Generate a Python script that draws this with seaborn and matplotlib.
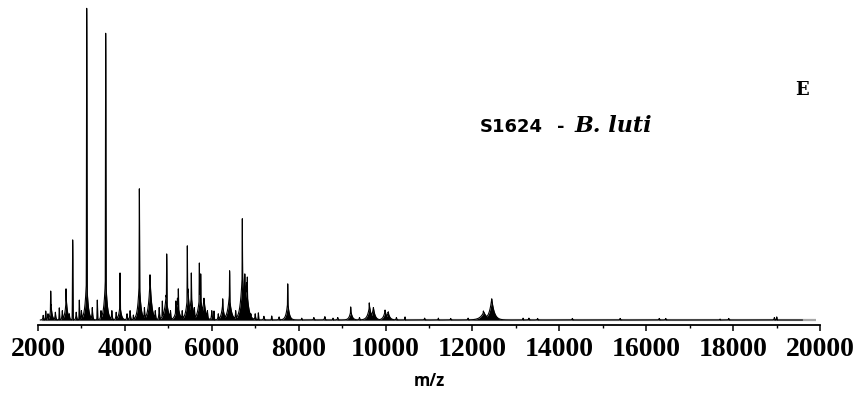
import numpy as np
import pandas as pd
import matplotlib
matplotlib.use("Agg")
import matplotlib.pyplot as plt
from matplotlib.ticker import MultipleLocator
import seaborn as sns

# Major peaks: m/z position and apex intensity (% of base peak)
peak_mz = [2177, 2292, 2490, 2645, 2798, 2951, 3121, 3365, 3558, 3888,
           4195, 4333, 4578, 4862, 4962, 5170, 5230, 5437, 5529, 5714,
           5745, 5821, 6052, 6251, 6410, 6703, 6760, 6818, 7072, 7379,
           7748, 8070, 8607, 8790, 9197, 9625, 9717, 9988, 10064, 10448,
           11215, 12252, 12444, 13165, 17700, 19004]
peak_int = [2.9, 9.3, 3.9, 10.0, 25.7, 6.4, 100.0, 6.4, 92.0, 15.1,
            1.6, 42.1, 14.5, 6.1, 21.2, 6.1, 10.0, 23.8, 15.1, 18.3,
            14.8, 6.8, 2.9, 6.8, 15.8, 32.5, 14.8, 13.8, 2.3, 1.3,
            11.6, 0.6, 1.0, 0.6, 4.2, 5.5, 3.9, 3.2, 2.6, 1.0,
            0.6, 2.9, 6.8, 0.6, 0.3, 1.0]

# Peak clusters around the main signals: centre, height, decay width (Da)
cluster_mz = [2300, 2650, 3118, 3556, 3888, 4332, 4580, 4950, 5210, 5450,
              5530, 5730, 5820, 6250, 6405, 6705, 6800, 7748, 9200, 9630,
              9720, 9990, 10060, 12260, 12444]
cluster_int = [5.0, 7.0, 14.0, 15.0, 5.0, 13.0, 13.0, 8.0, 7.0, 10.0,
               8.0, 10.0, 7.0, 5.0, 8.0, 16.0, 12.0, 6.0, 3.0, 4.5,
               4.0, 3.0, 2.5, 2.6, 6.8]
cluster_w = [25, 30, 35, 35, 30, 35, 40, 45, 40, 40,
             40, 45, 40, 35, 45, 45, 45, 35, 35, 45,
             40, 40, 40, 80, 60]

# Low-level signals along the baseline
minor_mz = [2120, 2230, 2400, 2560, 2720, 2880, 3000, 3250, 3450, 3700,
            3800, 4050, 4120, 4450, 4700, 4790, 5050, 5320, 5600, 5900,
            6000, 6150, 6550, 6900, 7000, 7200, 7550, 8350, 8600, 8900,
            9400, 10250, 10900, 11500, 11900, 13300, 13500, 14300, 15400, 16300,
            16450, 17900, 18950]
minor_int = [1.5, 2.0, 2.5, 3.0, 2.0, 2.5, 3.0, 4.0, 3.0, 3.0,
             2.5, 2.0, 3.0, 4.0, 3.0, 4.0, 3.0, 3.0, 4.0, 3.0,
             3.0, 2.0, 3.0, 2.0, 2.0, 1.2, 1.0, 0.8, 1.0, 0.8,
             0.8, 0.8, 0.6, 0.5, 0.6, 0.6, 0.5, 0.5, 0.5, 0.5,
             0.5, 0.5, 0.8]

trace_range = [2050, 19600]
baseline_range = [2100, 19900]
x_ticks = [2000, 4000, 6000, 8000, 10000, 12000, 14000, 16000, 18000, 20000]

# Profile spectrum rendered from the peak lists (overlay envelope), 1 Da grid
mz = np.arange(trace_range[0], trace_range[1], 1.0)
profile = np.zeros_like(mz)
for c, h in zip(peak_mz, peak_int):
    profile = np.maximum(profile, h * np.exp(-0.5 * ((mz - c) / 5.0) ** 2))
for c, h, w in zip(cluster_mz, cluster_int, cluster_w):
    profile = np.maximum(profile, h * np.exp(-np.abs(mz - c) / w))
for c, h in zip(minor_mz, minor_int):
    profile = np.maximum(profile, h * np.exp(-np.abs(mz - c) / 12.0))
spectrum = pd.DataFrame({"mz": mz, "intensity": profile})

sns.set_style("white")
plt.rcParams.update({"text.color": "black", "xtick.color": "black",
                     "axes.labelcolor": "black"})
fig = plt.figure(figsize=(8.62, 3.94), dpi=100)
ax = fig.add_axes([38 / 862, 69 / 394, 782 / 862, 325 / 394])

ax.hlines(0, baseline_range[0], baseline_range[1], color="#a8a8a8", lw=1.6, zorder=1)
ax.fill_between(spectrum["mz"], 0, spectrum["intensity"], color="black", lw=0, zorder=2)
sns.lineplot(data=spectrum, x="mz", y="intensity", color="black", lw=0.8,
             estimator=None, sort=False, ax=ax, zorder=3)

ax.set_xlim(2000, 20000)
ax.set_ylim(-1.6, 102.67)
ax.set_yticks([])
ax.set_ylabel("")
for side in ("top", "right", "left"):
    ax.spines[side].set_visible(False)
ax.spines["bottom"].set_color("black")
ax.spines["bottom"].set_linewidth(1.3)

ax.set_xticks(x_ticks)
ax.set_xticklabels([str(t) for t in x_ticks])
ax.xaxis.set_minor_locator(MultipleLocator(1000))
ax.tick_params(axis="x", which="major", direction="out", length=4, width=1.1,
               color="black", labelcolor="black", pad=4.5, bottom=True)
ax.tick_params(axis="x", which="minor", direction="out", length=2.5, width=1.0,
               color="black", bottom=True)
for lab in ax.get_xticklabels():
    lab.set_fontfamily("Liberation Serif")
    lab.set_fontweight("bold")
    lab.set_fontsize(20)

ax.set_xlabel("m/z", fontfamily="Open Sans", fontweight="bold", fontsize=12,
              labelpad=7, color="black")

# Annotations
fig.text(480 / 862, 1 - 131.7 / 394, "S1624", fontfamily="DejaVu Sans",
         fontweight="bold", fontsize=13, va="baseline", ha="left", color="black")
fig.text(561 / 862, 1 - 131.7 / 394, "-", fontfamily="DejaVu Sans",
         fontweight="bold", fontsize=13, va="baseline", ha="center", color="black")
fig.text(575 / 862, 1 - 131.7 / 394, "B. luti", fontfamily="DejaVu Serif",
         fontweight="bold", fontstyle="italic", fontsize=16, va="baseline",
         ha="left", color="black")
fig.text(795 / 862, 1 - 95 / 394, "E", fontfamily="DejaVu Serif",
         fontweight="bold", fontsize=13, va="baseline", ha="left", color="black")

fig.savefig("out.png", dpi=100, facecolor="white")
